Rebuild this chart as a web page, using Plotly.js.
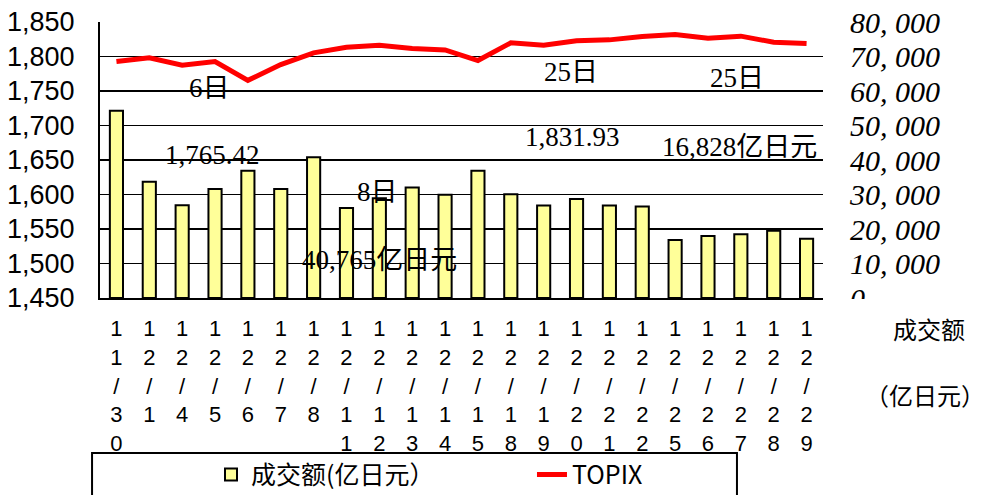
<!DOCTYPE html>
<html>
<head>
<meta charset="utf-8">
<script src="https://cdn.plot.ly/plotly-3.0.1.min.js"></script>
<style>
html,body{margin:0;padding:0;background:#fff;}
#chart{width:984px;height:495px;}
</style>
</head>
<body>
<div id="chart"></div>
<script>
// ---- data ----
const dates = ['11/30','12/1','12/4','12/5','12/6','12/7','12/8','12/11','12/12','12/13','12/14',
               '12/15','12/18','12/19','12/20','12/21','12/22','12/25','12/26','12/27','12/28','12/29'];
// 成交额 (亿日元)
const volume = [54300, 33700, 26900, 31600, 36900, 31600, 40765, 26100, 28900, 32000, 29900,
                36900, 30100, 26800, 28700, 26800, 26500, 16828, 18000, 18500, 19500, 17200];
// TOPIX
const topix = [1792.7, 1798.0, 1787.3, 1792.7, 1765.42, 1788.3, 1805.3, 1813.4, 1816.3, 1811.5, 1809.6,
               1794.1, 1819.8, 1816.3, 1822.7, 1824.1, 1829.0, 1831.93, 1826.5, 1829.5, 1820.7, 1818.8];
const volTicks = [0, 10000, 20000, 30000, 40000, 50000, 60000, 70000, 80000];
const topixTicks = [1450, 1500, 1550, 1600, 1650, 1700, 1750, 1800, 1850];
const seriesNames = ['成交额(亿日元）', 'TOPIX'];

// vertical stacked tick labels
const xLabels = dates.map(d => d.split('').join('<br>'));
const volTickText = volTicks.map(v => v.toLocaleString('en-US').replace(',', ', '));

const serif = '"Liberation Serif", "Noto Sans CJK SC", serif';
const sans = '"Liberation Sans", Arial, "Noto Sans CJK SC", sans-serif';
const cjk = '"Noto Sans CJK SC", "Liberation Sans", sans-serif';

const traces = [
  {
    type: 'bar', name: seriesNames[0], x: xLabels, y: volume, yaxis: 'y',
    width: 0.4,
    marker: {color: '#FFFF99', line: {color: '#000000', width: 2}},
    hoverinfo: 'skip'
  },
  {
    type: 'scatter', mode: 'lines', name: seriesNames[1], x: xLabels, y: topix, yaxis: 'y2',
    line: {color: '#FF0000', width: 5},
    hoverinfo: 'skip'
  }
];

function ann(text, x, y, extra) {
  return Object.assign({
    text: text, xref: 'paper', yref: 'paper', x: x, y: y,
    xanchor: 'center', yanchor: 'middle', showarrow: false,
    font: {family: serif, size: 27, color: '#000'}
  }, extra || {});
}

const layout = {
  width: 984, height: 495,
  margin: {l: 100, r: 161, t: 22, b: 197, pad: 0, autoexpand: false},
  paper_bgcolor: '#ffffff', plot_bgcolor: '#ffffff',
  showlegend: true,
  xaxis: {
    type: 'category', tickvals: xLabels, ticktext: xLabels,
    showline: true, linecolor: '#000', linewidth: 2,
    showgrid: false, zeroline: false,
    ticks: 'outside', ticklen: 10, tickcolor: 'rgba(0,0,0,0)',
    tickangle: 0, automargin: false,
    tickfont: {family: sans, size: 22, color: '#000'}
  },
  yaxis: {
    side: 'right', range: [0, 80000], automargin: false,
    tickvals: volTicks, ticktext: volTickText,
    showgrid: true, gridcolor: '#000', gridwidth: 1.6,
    showline: false, zeroline: false,
    ticks: 'outside', ticklen: 20, tickcolor: 'rgba(0,0,0,0)',
    tickfont: {family: serif, size: 30, color: '#000', style: 'italic'}
  },
  yaxis2: {
    side: 'left', overlaying: 'y', range: [1450, 1850], automargin: false,
    tickvals: topixTicks, tickformat: ',d',
    showgrid: false, zeroline: false,
    showline: true, linecolor: '#000', linewidth: 2,
    ticks: 'outside', ticklen: 18, tickcolor: 'rgba(0,0,0,0)',
    tickfont: {family: sans, size: 27, color: '#000'}
  },
  legend: {
    orientation: 'h', x: 0.1535, y: -0.64, xanchor: 'left', yanchor: 'middle',
    bgcolor: 'rgba(0,0,0,0)', borderwidth: 0,
    entrywidth: 276, entrywidthmode: 'pixels',
    font: {family: cjk, size: 25, color: '#000'},
    traceorder: 'normal'
  },
  shapes: [
    // legend frame
    {type: 'rect', xref: 'paper', yref: 'paper', x0: -0.011, x1: 0.881, y0: -0.5616, y1: -0.75,
     line: {color: '#000', width: 2}, fillcolor: 'rgba(0,0,0,0)', layer: 'above'},
    // mask clipping bottom half of the right "0" label
    {type: 'rect', xref: 'paper', yref: 'paper', x0: 1.02, x1: 1.23, y0: -0.004, y1: -0.07,
     line: {width: 0}, fillcolor: '#ffffff', layer: 'above'}
  ],
  annotations: [
    ann('6日', 0.1508, 0.761),
    ann('1,765.42', 0.155, 0.518),
    ann('8日', 0.3845, 0.384),
    ann('40,765亿日元', 0.387, 0.138),
    ann('25日', 0.6515, 0.819),
    ann('25日', 0.881, 0.797),
    ann('1,831.93', 0.654, 0.583),
    ann('16,828亿日元', 0.884, 0.547),
    ann('成交额', 1.1466, -0.1087, {font: {family: cjk, size: 24, color: '#000'}}),
    ann('（亿日元）', 1.141, -0.351, {font: {family: cjk, size: 24, color: '#000'}})
  ]
};

Plotly.newPlot('chart', traces, layout, {staticPlot: true, displayModeBar: false});
</script>
</body>
</html>
